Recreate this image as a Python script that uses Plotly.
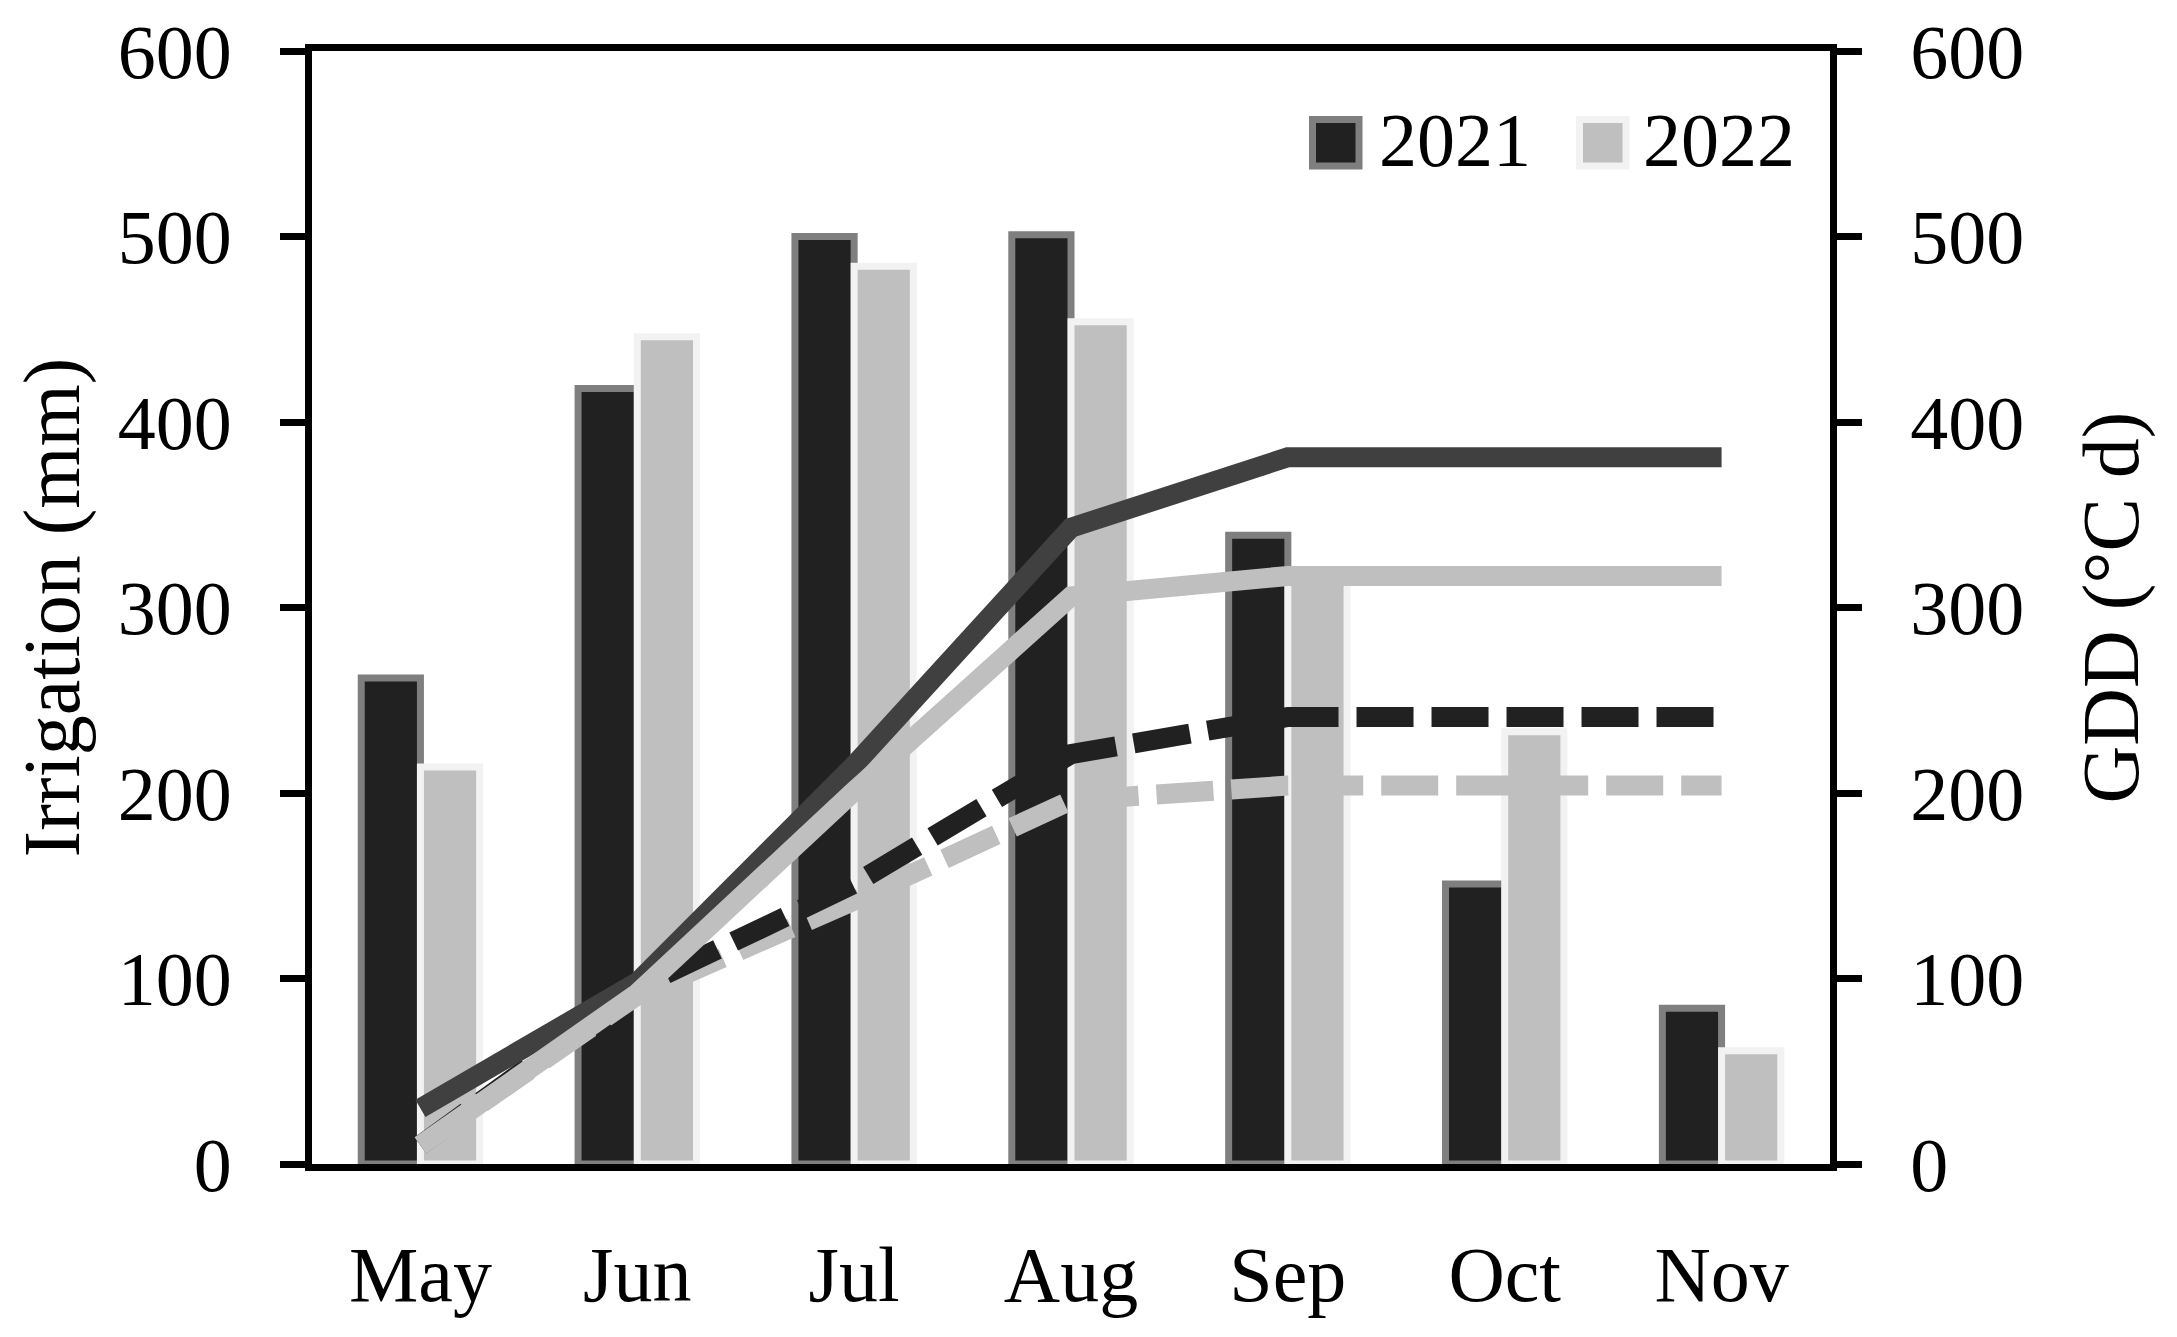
import plotly.graph_objects as go

# ---------------- data ----------------
months = ["May", "Jun", "Jul", "Aug", "Sep", "Oct", "Nov"]
irrigation_2021 = [262, 418, 500, 501, 339, 151, 84]
irrigation_2022 = [214, 446, 484, 454, 316, 233, 61]

gdd_solid_2021 = [30, 98, 215, 343, 381, 381, 381]
gdd_solid_2022 = [10, 92, 201, 306, 317, 317, 317]
gdd_dashed_2021 = [10, 95, 151, 221, 241, 241, 241]
gdd_dashed_2022 = [10, 91, 142, 196, 204, 204, 204]

y_ticks = [0, 100, 200, 300, 400, 500, 600]

# ---------------- styling ----------------
FONT = "Liberation Serif"
DARK = "#212121"
DARK_EDGE = "#7f7f7f"
LIGHT = "#bfbfbf"
LIGHT_EDGE = "#f2f2f2"
LINE_DARK = "#404040"

# page body has an 8px default margin -> figure is drawn at (8, 8)
PAGE_OFF = 8
W, H = 2177 - 2 * PAGE_OFF, 1337 - 2 * PAGE_OFF
L, R, T, B = 304, 339, 43, 165
plot_w = W - L - R
plot_h = H - T - B
plot_left_screen = L + PAGE_OFF
plot_bottom_screen = H - B + PAGE_OFF

fig = go.Figure()

fig.add_trace(go.Bar(
    x=months, y=irrigation_2021, name="2021",
    marker=dict(color=DARK, line=dict(color=DARK_EDGE, width=7)),
    showlegend=False,
))
fig.add_trace(go.Bar(
    x=months, y=irrigation_2022, name="2022",
    marker=dict(color=LIGHT, line=dict(color=LIGHT_EDGE, width=7)),
    showlegend=False,
))

DASH = "57px,18px"
fig.add_trace(go.Scatter(
    x=months, y=gdd_dashed_2022, mode="lines", yaxis="y2", name="2022 (dashed)",
    line=dict(color=LIGHT, width=20, dash=DASH), showlegend=False,
))
fig.add_trace(go.Scatter(
    x=months, y=gdd_dashed_2021, mode="lines", yaxis="y2", name="2021 (dashed)",
    line=dict(color=DARK, width=20, dash=DASH), showlegend=False,
))
fig.add_trace(go.Scatter(
    x=months, y=gdd_solid_2021, mode="lines", yaxis="y2", name="GDD 2021",
    line=dict(color=LINE_DARK, width=20), showlegend=False,
))
fig.add_trace(go.Scatter(
    x=months, y=gdd_solid_2022, mode="lines", yaxis="y2", name="GDD 2022",
    line=dict(color=LIGHT, width=20), showlegend=False,
))

axis_common = dict(
    range=[0, 600], tickvals=y_ticks, ticks="outside", ticklen=25, tickwidth=7,
    tickcolor="black", showline=True, linewidth=7, linecolor="black",
    showgrid=False, zeroline=False,
    tickfont=dict(family=FONT, size=76, color="black"),
    ticklabelstandoff=33,
)

fig.update_layout(
    width=W, height=H,
    margin=dict(l=L, r=R, t=T, b=B, autoexpand=False),
    paper_bgcolor="white", plot_bgcolor="white",
    barmode="group", bargap=0.454, bargroupgap=0,
    font=dict(family=FONT, color="black"),
    showlegend=False,
    xaxis=dict(
        type="category", showline=True, linewidth=7, linecolor="black",
        mirror=True, ticks="", showgrid=False, zeroline=False,
        tickfont=dict(family=FONT, size=78, color="black"),
        ticklabelstandoff=36,
    ),
    yaxis=dict(
        **axis_common,
        title=dict(text="Irrigation (mm)", font=dict(family=FONT, size=80, color="black"), standoff=26),
    ),
    yaxis2=dict(
        **axis_common, overlaying="y", side="right",
        title=dict(text="GDD (°C d)", font=dict(family=FONT, size=80, color="black"), standoff=61),
    ),
)

# ---------------- custom legend (big square swatches) ----------------
def px_x(p):
    return (p - plot_left_screen) / plot_w

def px_y(p):
    return (plot_bottom_screen - p) / plot_h

legend_items = [
    ("2021", DARK, DARK_EDGE, 1309, 1377),
    ("2022", LIGHT, LIGHT_EDGE, 1576, 1641),
]
for label, fill, edge, sq_left, txt_left in legend_items:
    fig.add_shape(
        type="rect", xref="paper", yref="paper",
        x0=px_x(sq_left + 3.5), x1=px_x(sq_left + 50), y0=px_y(166), y1=px_y(119.5),
        fillcolor=fill, line=dict(color=edge, width=7), layer="above",
    )
    fig.add_annotation(
        x=px_x(txt_left), y=px_y(140), xref="paper", yref="paper",
        text=label, showarrow=False, xanchor="left", yanchor="middle",
        font=dict(family=FONT, size=76, color="black"),
    )

fig.write_html("out.html")
